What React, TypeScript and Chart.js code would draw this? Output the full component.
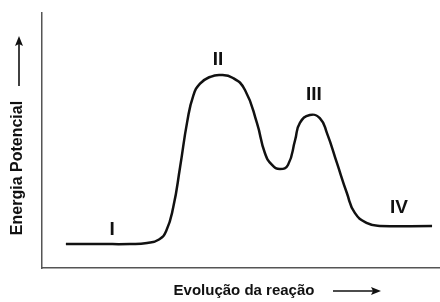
import React, { useEffect, useRef } from "react";
import { Chart, registerables } from "chart.js";

Chart.register(...registerables);

// Reaction progress (arbitrary units, 0-100) and potential energy (arbitrary units, 0-100)
const reactionProgress = [
  6.0, 14.6, 22.1, 26.4, 29.4, 31.2, 33.0, 34.7, 36.5, 38.0, 39.7, 42.2, 44.7, 48.0,
  51.0, 54.0, 56.0, 57.8, 59.8, 61.8, 63.6, 64.8, 67.3, 69.8, 71.6, 74.1, 76.6, 78.6,
  81.7, 84.9, 98.0,
];
const potentialEnergy = [
  9.4, 9.4, 9.4, 9.8, 11.2, 14.5, 24.0, 39.6, 57.5, 67.5, 72.3, 74.9, 75.7, 74.5,
  69.8, 56.9, 45.1, 40.4, 38.8, 40.4, 50.2, 56.9, 60.0, 58.8, 52.9, 41.2, 29.4, 21.6,
  17.6, 16.5, 16.5,
];
// Stage labels and the data point each annotates
const stageLabels = ["I", "II", "III", "IV"];
const stagePointIndex = [1, 12, 22, 30];

const xAxisTitle = "Evolução da reação";
const yAxisTitle = "Energia Potencial";

const FONT = "'Liberation Sans', Arial, sans-serif";

export default function App() {
  const ref = useRef<HTMLCanvasElement | null>(null);

  useEffect(() => {
    if (!ref.current) return;
    const points = reactionProgress.map((x, i) => ({ x, y: potentialEnergy[i] }));

    const stageOffsets = [
      { dx: 12, dy: -14 },
      { dx: -2, dy: -15 },
      { dx: 4, dy: -20 },
      { dx: -33, dy: -18 },
    ];

    const decor = {
      id: "decor",
      afterDraw(chart: any) {
        const ctx = chart.ctx as CanvasRenderingContext2D;
        const xs = chart.scales.x;
        const ys = chart.scales.y;
        ctx.save();
        ctx.fillStyle = "#111";
        ctx.strokeStyle = "#111";
        // stage labels
        ctx.font = `bold 19px ${FONT}`;
        ctx.textAlign = "center";
        ctx.textBaseline = "middle";
        stageLabels.forEach((lab, i) => {
          const idx = stagePointIndex[i];
          const px = xs.getPixelForValue(reactionProgress[idx]);
          const py = ys.getPixelForValue(potentialEnergy[idx]);
          ctx.fillText(lab, px + stageOffsets[i].dx, py + stageOffsets[i].dy);
        });
        // x axis title
        const area = chart.chartArea;
        ctx.font = `bold 15px ${FONT}`;
        ctx.textAlign = "center";
        ctx.fillText(xAxisTitle, 244, area.bottom + 23);
        // x arrow
        ctx.lineWidth = 1.6;
        ctx.beginPath();
        ctx.moveTo(333, area.bottom + 23);
        ctx.lineTo(376, area.bottom + 23);
        ctx.stroke();
        ctx.beginPath();
        ctx.moveTo(381, area.bottom + 23);
        ctx.lineTo(371, area.bottom + 19);
        ctx.lineTo(373, area.bottom + 23);
        ctx.lineTo(371, area.bottom + 27);
        ctx.closePath();
        ctx.fill();
        // y axis title (rotated)
        ctx.save();
        ctx.translate(18, 168);
        ctx.rotate(-Math.PI / 2);
        ctx.font = `bold 16px ${FONT}`;
        ctx.textAlign = "center";
        ctx.fillText(yAxisTitle, 0, 0);
        ctx.restore();
        // y arrow
        ctx.beginPath();
        ctx.moveTo(19, 86);
        ctx.lineTo(19, 41);
        ctx.stroke();
        ctx.beginPath();
        ctx.moveTo(19, 36);
        ctx.lineTo(15, 46);
        ctx.lineTo(19, 44);
        ctx.lineTo(23, 46);
        ctx.closePath();
        ctx.fill();
        ctx.restore();
      },
    };

    const chart = new Chart(ref.current, {
      type: "line",
      data: {
        datasets: [
          {
            data: points,
            borderColor: "#111",
            borderWidth: 2.5,
            pointRadius: 0,
            fill: false,
            tension: 0.5,
          },
        ],
      },
      options: {
        responsive: false,
        animation: false,
        layout: { padding: { left: 42, top: 13, right: 0, bottom: 34 } },
        plugins: { legend: { display: false }, tooltip: { enabled: false } },
        scales: {
          x: {
            type: "linear",
            min: 0,
            max: 100,
            grid: { display: false, drawTicks: false },
            ticks: { display: false },
            border: { display: true, color: "#555", width: 1.5 },
          },
          y: {
            type: "linear",
            min: 0,
            max: 100,
            grid: { display: false, drawTicks: false },
            ticks: { display: false },
            border: { display: true, color: "#555", width: 1.5 },
          },
        },
      },
      plugins: [decor],
    });
    return () => chart.destroy();
  }, []);

  return (
    <canvas
      ref={ref}
      width={440}
      height={302}
      style={{ position: "fixed", left: 0, top: 0, width: 440, height: 302, background: "#fff" }}
    />
  );
}
